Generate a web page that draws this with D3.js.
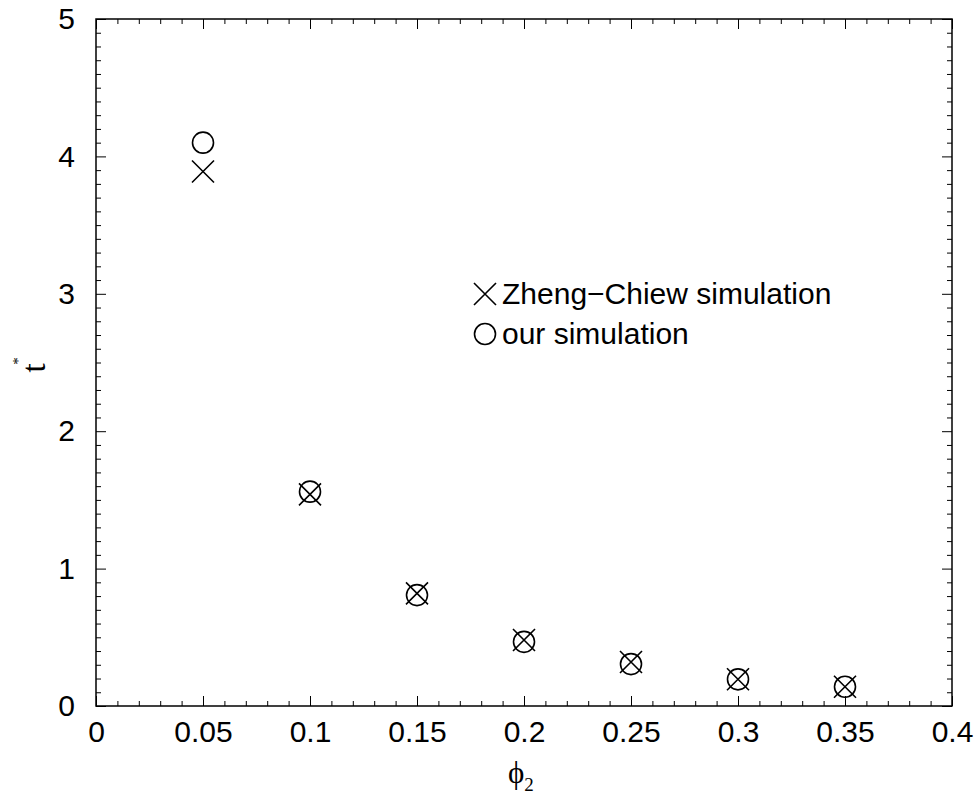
<!DOCTYPE html>
<html lang="en">

<head>
    <meta charset="UTF-8">
    <title>t* vs phi2</title>
    <script src="https://cdn.jsdelivr.net/npm/d3@7"></script>
    <style>
        * {
            margin: 0;
            padding: 0;
        }

        body {
            background: #fff;
        }
    </style>
</head>

<body>
    <script>
        // data
        const phi = [0.05, 0.1, 0.15, 0.2, 0.25, 0.3, 0.35];
        const zhengChiew = [3.89, 1.54, 0.82, 0.48, 0.32, 0.195, 0.14];
        const ours = [4.10, 1.56, 0.807, 0.467, 0.305, 0.194, 0.14];
        const xTicks = [0, 0.05, 0.1, 0.15, 0.2, 0.25, 0.3, 0.35, 0.4];
        const yTicks = [0, 1, 2, 3, 4, 5];
        const legendLabels = ["Zheng\u2212Chiew simulation", "our simulation"];

        const width = 976, height = 794;
        const plotLeft = 96, plotRight = 952, plotTop = 19, plotBottom = 706;
        const font = "'Liberation Sans', Arial, sans-serif";
        const serif = "'Liberation Serif', 'Times New Roman', serif";

        const svg = d3.select("body").append("svg")
            .attr("width", width)
            .attr("height", height);

        const x = d3.scaleLinear().domain([0, 0.4]).range([plotLeft, plotRight]);
        const y = d3.scaleLinear().domain([0, 5]).range([plotBottom, plotTop]);

        const xMinor = d3.range(0, 0.4001, 0.01).filter(v => !xTicks.some(t => Math.abs(t - v) < 1e-6));
        const yMinor = d3.range(0, 5.0001, 0.1).filter(v => !yTicks.some(t => Math.abs(t - v) < 1e-6));

        function styleAxis(g) {
            g.select(".domain").remove();
            g.selectAll(".tick line").attr("stroke", "#000").attr("stroke-width", 1);
            g.selectAll("text").attr("font-family", font).attr("font-size", 30).attr("fill", "#000");
        }

        // major ticks with labels
        svg.append("g").attr("transform", `translate(0,${plotBottom})`)
            .call(d3.axisBottom(x).tickValues(xTicks).tickSize(-10).tickPadding(15).tickFormat(d3.format("")))
            .call(styleAxis);
        svg.append("g").attr("transform", `translate(${plotLeft},0)`)
            .call(d3.axisLeft(y).tickValues(yTicks).tickSize(-10).tickPadding(21).tickFormat(d3.format("d")))
            .call(styleAxis);
        svg.append("g").attr("transform", `translate(0,${plotTop})`)
            .call(d3.axisTop(x).tickValues(xTicks).tickSize(-10).tickFormat(""))
            .call(styleAxis);
        svg.append("g").attr("transform", `translate(${plotRight},0)`)
            .call(d3.axisRight(y).tickValues(yTicks).tickSize(-10).tickFormat(""))
            .call(styleAxis);

        // minor ticks
        svg.append("g").attr("transform", `translate(0,${plotBottom})`)
            .call(d3.axisBottom(x).tickValues(xMinor).tickSize(-5).tickFormat(""))
            .call(styleAxis);
        svg.append("g").attr("transform", `translate(0,${plotTop})`)
            .call(d3.axisTop(x).tickValues(xMinor).tickSize(-5).tickFormat(""))
            .call(styleAxis);
        svg.append("g").attr("transform", `translate(${plotLeft},0)`)
            .call(d3.axisLeft(y).tickValues(yMinor).tickSize(-5).tickFormat(""))
            .call(styleAxis);
        svg.append("g").attr("transform", `translate(${plotRight},0)`)
            .call(d3.axisRight(y).tickValues(yMinor).tickSize(-5).tickFormat(""))
            .call(styleAxis);

        // frame
        svg.append("rect")
            .attr("x", plotLeft).attr("y", plotTop)
            .attr("width", plotRight - plotLeft).attr("height", plotBottom - plotTop)
            .attr("fill", "none").attr("stroke", "#000").attr("stroke-width", 1.5);

        // markers
        const cross = d3.symbol().type(d3.symbolX).size(318);

        svg.append("g")
            .selectAll("path")
            .data(phi)
            .join("path")
            .attr("transform", (d, i) => `translate(${x(d)},${y(zhengChiew[i])})`)
            .attr("d", cross)
            .attr("fill", "none")
            .attr("stroke", "#000")
            .attr("stroke-width", 1.6);

        svg.append("g")
            .selectAll("circle")
            .data(phi)
            .join("circle")
            .attr("cx", d => x(d))
            .attr("cy", (d, i) => y(ours[i]))
            .attr("r", 10.5)
            .attr("fill", "none")
            .attr("stroke", "#000")
            .attr("stroke-width", 1.6);

        // legend
        const legend = svg.append("g").attr("transform", "translate(485,294)");
        legend.append("path")
            .attr("d", cross)
            .attr("fill", "none").attr("stroke", "#000").attr("stroke-width", 1.6);
        legend.append("circle")
            .attr("cy", 40).attr("r", 10.5)
            .attr("fill", "none").attr("stroke", "#000").attr("stroke-width", 1.6);
        legend.selectAll("text")
            .data(legendLabels)
            .join("text")
            .attr("x", 17)
            .attr("y", (d, i) => 10 + i * 40)
            .attr("font-family", font)
            .attr("font-size", 30)
            .text(d => d);

        // axis titles
        const xt = svg.append("text")
            .attr("x", 508).attr("y", 783)
            .attr("font-family", serif)
            .attr("font-size", 31);
        xt.append("tspan").text("\u03D5");
        xt.append("tspan").attr("font-size", 19).attr("dy", 8).text("2");

        svg.append("text")
            .attr("transform", "translate(45,368) rotate(-90)")
            .attr("text-anchor", "middle")
            .attr("font-family", serif)
            .attr("font-size", 33)
            .text("t");
        svg.append("text")
            .attr("transform", "translate(23,361) rotate(-90)")
            .attr("text-anchor", "middle")
            .attr("font-family", serif)
            .attr("font-size", 15)
            .text("*");
    </script>
</body>

</html>
